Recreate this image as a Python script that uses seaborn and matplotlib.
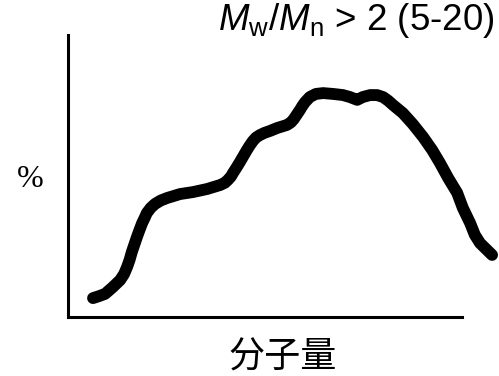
import pandas as pd
import seaborn as sns
import matplotlib
matplotlib.use("Agg")
import matplotlib.pyplot as plt

# molecular weight (arbitrary units, left -> right) and % (arbitrary units)
mol_weight = [5.8, 7.2, 8.6, 10.4, 12.1, 13.0, 13.7, 14.3, 14.8, 15.4, 16.0, 16.6,
              17.2, 17.8, 18.3, 19.2, 20.2, 21.5, 23.0, 26.0,
              29.0, 32.3, 35.3, 36.4, 37.1, 37.8, 38.3, 39.1, 39.9, 40.7, 41.5, 42.2,
              42.9, 43.6, 44.5, 45.6, 46.9, 48.5, 50.8, 51.7,
              52.4, 53.1, 53.8, 54.4, 55.0, 56.1, 57.5, 59.2, 61.5, 63.8, 65.4, 67.1,
              68.4, 70.1, 71.7, 73.1, 74.3, 75.4, 77.7, 80.0, 82.4, 84.5, 86.3, 88.2,
              90.3, 91.6, 93.3, 94.4, 95.6, 97.0, 98.4]
percent = [6.7, 7.4, 8.2, 10.6, 13.1, 15.2, 17.7, 20.3, 23.0, 25.7, 28.4, 30.9,
           33.3, 35.2, 36.9, 38.7, 40.1, 41.3, 42.2, 43.6,
           44.3, 45.4, 46.8, 47.6, 48.6, 49.8, 51.1, 53.0, 55.0, 57.1, 59.2, 60.9,
           62.4, 63.6, 64.5, 65.3, 66.0, 67.0, 68.1, 69.0,
           70.2, 71.8, 73.4, 74.9, 76.2, 78.0, 79.1, 79.4, 79.1, 78.7, 78.0, 77.0,
           78.0, 78.7, 78.7, 78.0, 76.7, 75.2, 72.3, 68.4, 63.8, 59.2, 54.6, 49.3,
           44.0, 38.7, 33.3, 29.1, 26.2, 24.1, 22.0]

title = r"$M_{\rm w}/M_{\rm n}$ > 2 (5-20)"
x_label = "分子量"
y_label = "%"

sns.set_theme(style="white")
plt.rcParams["font.family"] = ["Liberation Sans", "DejaVu Sans"]
plt.rcParams["mathtext.fontset"] = "custom"
plt.rcParams["mathtext.rm"] = "Liberation Sans"
plt.rcParams["mathtext.it"] = "Liberation Sans:italic"
plt.rcParams["text.color"] = "black"
plt.rcParams["axes.labelcolor"] = "black"
plt.rcParams["axes.titlecolor"] = "black"

df = pd.DataFrame({"mw": mol_weight, "pct": percent})

fig = plt.figure(figsize=(4.99, 3.76), dpi=100)
ax = fig.add_axes([68 / 499, 59 / 376, 431 / 499, 282 / 376])

sns.lineplot(data=df, x="mw", y="pct", color="black", linewidth=8.5,
             sort=False, ax=ax, solid_capstyle="round", solid_joinstyle="round")

ax.set_xlim(0, 100)
ax.set_ylim(0, 100)
ax.set_xticks([])
ax.set_yticks([])
for side in ["top", "right"]:
    ax.spines[side].set_visible(False)
for side in ["left", "bottom"]:
    ax.spines[side].set_color("black")
    ax.spines[side].set_linewidth(2.2)
ax.spines["bottom"].set_bounds(0, 91.4)

ax.set_xlabel(x_label, fontsize=26, va="center", color="black",
              family=["Noto Sans CJK SC", "DejaVu Sans"])
ax.xaxis.set_label_coords(0.499, -0.145)
ax.set_ylabel(y_label, fontsize=23, rotation=0, ha="center", va="center",
              color="black", family=["Liberation Serif", "DejaVu Serif"])
ax.yaxis.set_label_coords(-0.088, 0.486)

ax.set_title(title, fontsize=26.5, loc="right", x=0.991, y=0.989,
             va="baseline", color="black")

fig.savefig("out.png", dpi=100)
